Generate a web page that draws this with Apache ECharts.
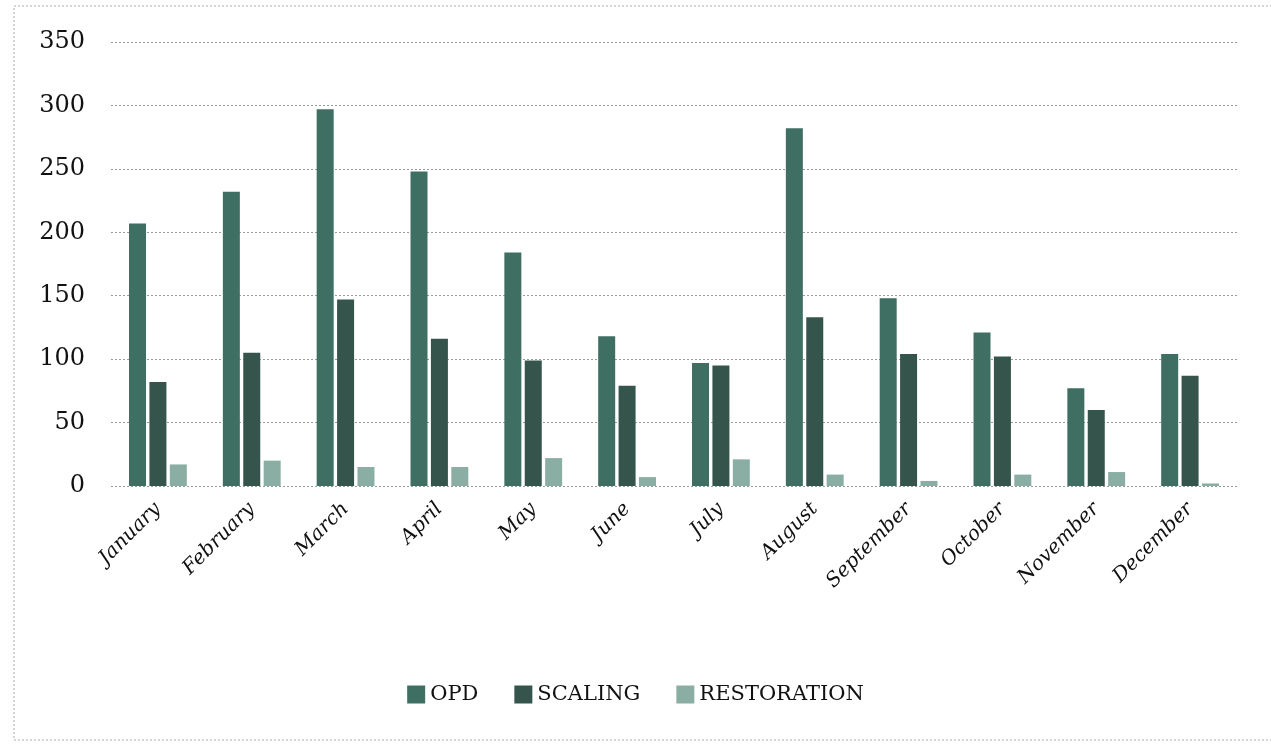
<!DOCTYPE html>
<html>
<head>
<meta charset="utf-8">
<script src="https://cdn.jsdelivr.net/npm/echarts@6/dist/echarts.min.js"></script>
<style>
html,body{margin:0;padding:0;background:#fff;}
#c{width:1271px;height:754px;}
</style>
</head>
<body>
<div id="c"></div>
<script>
const categories = ['January','February','March','April','May','June','July','August','September','October','November','December'];
const opd = [207, 232, 297, 248, 184, 118, 97, 282, 148, 121, 77, 104];
const scaling = [82, 105, 147, 116, 99, 79, 95, 133, 104, 102, 60, 87];
const restoration = [17, 20, 15, 15, 22, 7, 21, 9, 4, 9, 11, 2];
const seriesNames = ['OPD', 'SCALING', 'RESTORATION'];
const colors = ['#3f6f62', '#34544c', '#8aaea3'];

const chart = echarts.init(document.getElementById('c'));
const font = '"DejaVu Serif", "Liberation Serif", serif';
chart.setOption({
  animation: false,
  backgroundColor: '#fff',
  color: colors,
  graphic: [{
    type: 'rect',
    shape: { x: 14, y: 6, width: 1300, height: 734 },
    style: { fill: 'none', stroke: '#aaa', lineWidth: 1, lineDash: [2, 2] },
    silent: true
  }],
  grid: { left: 111, right: 34, top: 42, bottom: 268 },
  legend: {
    bottom: 44,
    left: 'center',
    itemWidth: 18,
    itemHeight: 18,
    itemGap: 36,
    icon: 'rect',
    textStyle: { fontFamily: font, fontSize: 21, color: '#111' },
    data: seriesNames
  },
  xAxis: {
    type: 'category',
    data: categories,
    axisLine: { show: false },
    axisTick: { show: false },
    axisLabel: {
      rotate: 45,
      margin: 20,
      fontFamily: font,
      fontStyle: 'italic',
      fontSize: 20,
      color: '#111',
      interval: 0
    }
  },
  yAxis: {
    type: 'value',
    min: 0,
    max: 350,
    interval: 50,
    axisLine: { show: false },
    axisTick: { show: false },
    axisLabel: { fontFamily: font, fontSize: 24, color: '#111', margin: 26 },
    splitLine: { lineStyle: { color: '#999', type: [2, 2], width: 1 } }
  },
  series: [
    { name: seriesNames[0], type: 'bar', data: opd, barWidth: 17, barGap: '20%' },
    { name: seriesNames[1], type: 'bar', data: scaling, barWidth: 17, barGap: '20%' },
    { name: seriesNames[2], type: 'bar', data: restoration, barWidth: 17, barGap: '20%' }
  ]
});
</script>
</body>
</html>
